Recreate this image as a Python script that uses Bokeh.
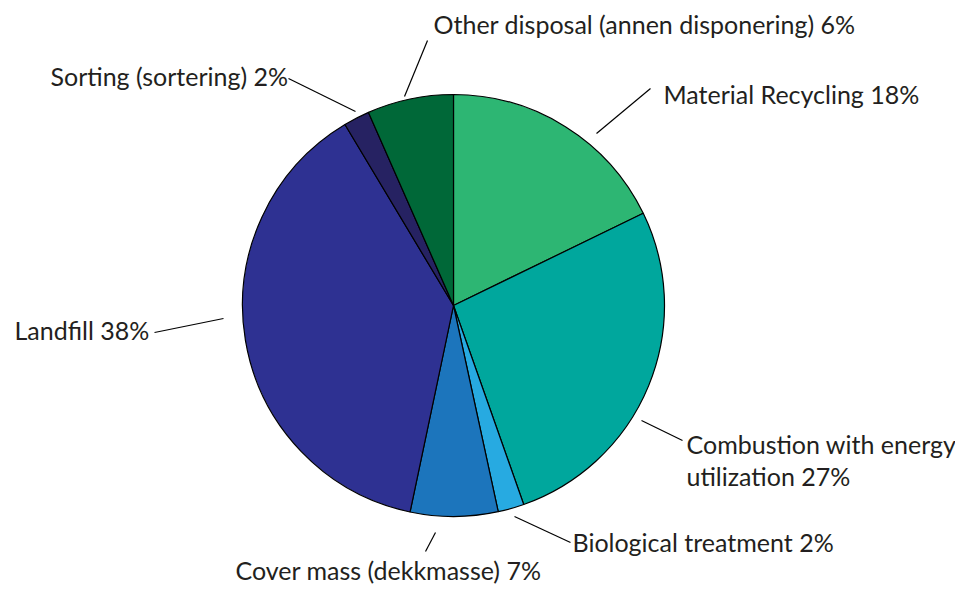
import math
from bokeh.plotting import figure
from bokeh.models import Range1d, ColumnDataSource
from bokeh.core.properties import value
from bokeh.embed import file_html
from bokeh.resources import INLINE

# ---- data ----
categories = [
    "Material Recycling",
    "Combustion with energy utilization",
    "Biological treatment",
    "Cover mass (dekkmasse)",
    "Landfill",
    "Sorting (sortering)",
    "Other disposal (annen disponering)",
]
shares = [17.8, 26.8, 2.0, 6.7, 38.1, 2.0, 6.6]
pct_labels = ["18%", "27%", "2%", "7%", "38%", "2%", "6%"]
colors = ["#2db673", "#00a79d", "#27aae1", "#1c75bc", "#2e3192", "#262262", "#006838"]

# ---- layout (picture pixel coordinates) ----
W, H = 955, 587
CX, CY, R = 453, 305, 211
TEXT_DY = -11  # compensates the renderer's baseline placement

# label text lines per slice, anchored at (x, baseline y)
label_lines = [
    [("Material Recycling 18%", 663, 104)],
    [("Combustion with energy", 686, 454), ("utilization 27%", 686, 486)],
    [("Biological treatment 2%", 572, 552)],
    [("Cover mass (dekkmasse) 7%", 235, 580)],
    [("Landfill 38%", 14, 340)],
    [("Sorting (sortering) 2%", 50, 86)],
    [("Other disposal (annen disponering) 6%", 433, 34)],
]
leaders = [
    ((650, 88), (596, 133)),
    ((641, 420), (682, 440)),
    ((514, 516), (570, 542)),
    ((435, 532), (425, 551)),
    ((154, 332), (223, 318)),
    ((288, 78), (355, 111)),
    ((427, 40), (404, 96)),
]

p = figure(width=W, height=H, output_backend="svg", toolbar_location=None,
           x_range=Range1d(0, W), y_range=Range1d(-H, 0),
           min_border=0)
p.axis.visible = False
p.grid.visible = False
p.outline_line_color = None
p.background_fill_color = "white"
p.border_fill_color = "white"

total = sum(shares)
starts, ends = [], []
cum = 0.0
for s in shares:
    a0 = math.pi / 2 - 2 * math.pi * cum / total
    cum += s
    a1 = math.pi / 2 - 2 * math.pi * cum / total
    starts.append(a0)
    ends.append(a1)

src = ColumnDataSource(dict(x=[CX] * len(shares), y=[-CY] * len(shares),
                            start=starts, end=ends, color=colors, name=categories))
p.wedge(x="x", y="y", radius=R, start_angle="start", end_angle="end",
        direction="clock", fill_color="color", line_color="black", line_width=1.2,
        source=src)

for (x0, y0), (x1, y1) in leaders:
    p.line([x0, x1], [-y0, -y1], line_color="black", line_width=1.2)

tx, ty, tt = [], [], []
for lines in label_lines:
    for t, x, y in lines:
        tx.append(x)
        ty.append(-(y + TEXT_DY))
        tt.append(t)
p.text(x=tx, y=ty, text=tt, text_font=value("Lato"), text_font_size="25px",
       text_color="#231f20", text_baseline="alphabetic", text_align="left")

open("out.html", "w").write(file_html(p, INLINE))
